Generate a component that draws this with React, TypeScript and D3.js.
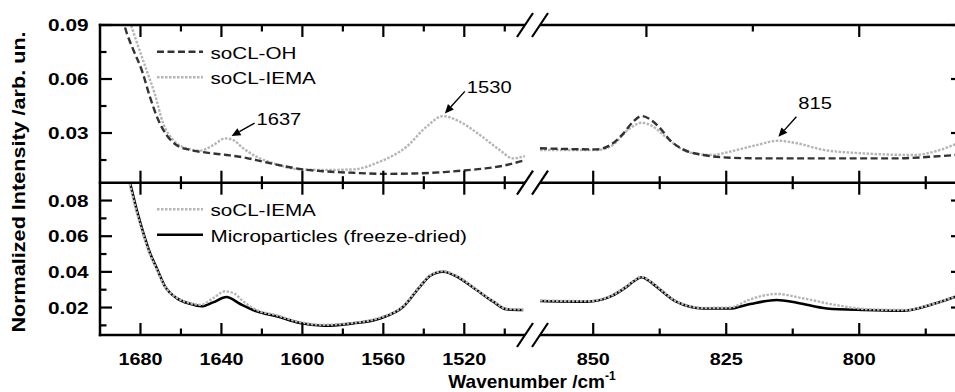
import React, { useEffect, useRef } from "react";
import * as d3 from "d3";

// [wavenumber cm-1, normalized intensity]
// top panel
const ohLow = [
  [1690, 0.1], [1687.7, 0.089], [1683.5, 0.0761], [1679.4, 0.065], [1675.3, 0.05],
  [1671.2, 0.0372], [1667.1, 0.0289], [1662.2, 0.0233], [1655.6, 0.0206], [1647.3, 0.0191],
  [1637.4, 0.0178], [1629.2, 0.0165], [1619.4, 0.0141], [1609.5, 0.0117], [1600, 0.0098],
  [1590, 0.0088], [1575, 0.0079], [1560, 0.0073], [1545, 0.0075], [1530, 0.0083],
  [1520, 0.0092], [1510, 0.0103], [1500, 0.012], [1490, 0.015],
];
const ohHigh = [
  [860, 0.0215], [849.3, 0.0209], [846.8, 0.0233], [844.3, 0.0298], [842.5, 0.0363],
  [840.9, 0.0394], [839.3, 0.0376], [837.4, 0.0326], [835.6, 0.0261], [833.1, 0.0209],
  [829.3, 0.0178], [824.3, 0.0163], [818, 0.0159], [805.5, 0.0159], [793, 0.0159],
  [786.7, 0.0168], [781, 0.018],
];
const iemaLow = [
  [1688, 0.1], [1684.4, 0.089], [1681.1, 0.078], [1677, 0.065], [1673, 0.052],
  [1668.8, 0.0354], [1663.8, 0.0261], [1657.2, 0.0215], [1650.6, 0.0202], [1644, 0.0233],
  [1638.3, 0.027], [1634.2, 0.0261], [1629.2, 0.0215], [1622.6, 0.0168], [1614.4, 0.0132],
  [1601.2, 0.0098], [1588, 0.0095], [1575, 0.0098], [1561.7, 0.0141], [1548.5, 0.0224],
  [1538.7, 0.0335], [1530.5, 0.0394], [1522.2, 0.0363], [1512.3, 0.0289], [1502.5, 0.0206],
  [1495.9, 0.0159], [1490, 0.0172],
];
const iemaHigh = [
  [860, 0.0206], [849.3, 0.0206], [846.8, 0.0224], [843.1, 0.0326], [840.9, 0.0357],
  [838.7, 0.0335], [836.8, 0.0289], [834.3, 0.0228], [831.8, 0.0191], [828, 0.0178],
  [823, 0.0206], [819.3, 0.0233], [815.2, 0.0257], [811.7, 0.0243], [806.7, 0.0206],
  [799.2, 0.0187], [789.8, 0.0178], [784.8, 0.0206], [781, 0.025],
];

// bottom panel
const microLow = [
  [1688, 0.1], [1685.2, 0.0899], [1681.9, 0.0749], [1678.6, 0.0619], [1675.3, 0.0506],
  [1672, 0.0422], [1667.9, 0.0319], [1662.1, 0.0253], [1655.6, 0.0221], [1649.8, 0.0207],
  [1644.1, 0.0229], [1637.5, 0.0259], [1630.9, 0.0221], [1622.6, 0.0179], [1612.8, 0.0151],
  [1601.2, 0.0113], [1589, 0.0098], [1575, 0.0111], [1561.7, 0.0139], [1550.2, 0.0204],
  [1541.9, 0.0317], [1537, 0.0377], [1530.5, 0.0401], [1522.2, 0.0364], [1513.9, 0.0298],
  [1505.7, 0.0233], [1499.1, 0.019], [1490.9, 0.0186],
];
const microHigh = [
  [860, 0.0237], [851.2, 0.0233], [846.8, 0.0261], [843.7, 0.0317], [842.5, 0.0345],
  [840.9, 0.037], [839.3, 0.0345], [838.1, 0.0317], [834.4, 0.0233], [829.3, 0.0195],
  [824.3, 0.0195], [820.5, 0.022], [815.5, 0.0242], [811.7, 0.0227], [806.1, 0.0195],
  [799.2, 0.0186], [791.7, 0.0182], [786.7, 0.0214], [781, 0.027],
];
const iemaBLow = [
  [1688, 0.1], [1685.5, 0.0899], [1682.2, 0.0749], [1678.9, 0.0619], [1675.6, 0.0506],
  [1672.3, 0.0422], [1668.2, 0.0322], [1662.4, 0.0258], [1655.9, 0.0226], [1650.2, 0.0215],
  [1644.1, 0.0252], [1638.3, 0.0291], [1633.5, 0.0278], [1629.8, 0.024], [1622.6, 0.0186],
  [1612.8, 0.0157], [1601.2, 0.0118], [1589, 0.0103], [1575, 0.0114], [1561.7, 0.0143],
  [1550.2, 0.0208], [1541.9, 0.032], [1537, 0.038], [1530.5, 0.0404], [1522.2, 0.0367],
  [1513.9, 0.03], [1505.7, 0.0236], [1499.1, 0.0193], [1490.9, 0.0189],
];
const iemaBHigh = [
  [860, 0.024], [851.2, 0.0236], [846.8, 0.0264], [843.7, 0.032], [842.5, 0.0348],
  [840.9, 0.0372], [839.3, 0.0348], [838.1, 0.032], [834.4, 0.0236], [829.3, 0.0198],
  [824.3, 0.02], [820.5, 0.0246], [815.5, 0.0276], [810.6, 0.0252], [804.4, 0.0214],
  [798.1, 0.019], [791.2, 0.0186], [786.7, 0.0216], [781, 0.0272],
];

// ticks
const lowMajor = [1680, 1640, 1600, 1560, 1520];
const lowMinor = [1660, 1620, 1580, 1540, 1500];
const highMajor = [850, 825, 800];
const highMinor = [837.5, 812.5, 787.5];
const highTopMajor = [840, 800];
const highTopMinor = [820];
const topYMajor = [0.09, 0.06, 0.03];
const topYMinor = [0.075, 0.045, 0.015];
const botYMajor = [0.08, 0.06, 0.04, 0.02];
const botYMinor = [0.07, 0.05, 0.03, 0.01];

const topLegend = ["soCL-OH", "soCL-IEMA"];
const botLegend = ["soCL-IEMA", "Microparticles (freeze-dried)"];

const annotations = [
  { label: "1637", w: 1635, v: 0.0283 },
  { label: "1530", w: 1529.6, v: 0.0409 },
  { label: "815", w: 815.2, v: 0.0279 },
];
// tail and text offsets from the arrow tip, px
const annoOffset = {
  "1637": { tail: [23, -13], text: [25, -11] },
  "1530": { tail: [20, -22], text: [22, -20] },
  "815": { tail: [18, -20], text: [20, -28] },
};

const W = 955;
const H = 392;
const frame = { left: 100, right: 963, top: 25, mid: 182.7, bottom: 335 };
const gapL = 525;
const gapR = 540;
const FONT = "'Liberation Sans', Arial, Helvetica, sans-serif";

const ohStyle = { stroke: "#333333", dash: "7,3.5", width: 2.4 };
const iemaStyle = { stroke: "#b5b5b5", dash: "2.5,1.5", width: 2.4 };
const microStyle = { stroke: "#000000", dash: null, width: 2.6 };

const App = () => {
  const ref = useRef(null);

  useEffect(() => {
    const svg = d3.select(ref.current);
    svg.selectAll("*").remove();

    const xLow = d3.scaleLinear().domain([1700, 1490]).range([frame.left, gapL]);
    const xHigh = d3.scaleLinear().domain([860, 780.5]).range([gapR, frame.right]);
    const xOf = (w) => (w > 1000 ? xLow(w) : xHigh(w));
    const yTop = d3.scaleLinear().domain([0.0024, 0.09]).range([frame.mid, frame.top]);
    const yBot = d3.scaleLinear().domain([0.0046, 0.09]).range([frame.bottom, frame.mid]);

    const text = (g, x, y, str, o) => {
      const t = g
        .append("text")
        .attr(
          "transform",
          `translate(${x},${y})${o.rot ? ` rotate(${o.rot})` : ""} scale(${o.sx || 1},1)`
        )
        .attr("font-family", FONT)
        .attr("font-size", o.size)
        .attr("font-weight", o.weight || "normal")
        .attr("text-anchor", o.anchor || "start")
        .attr("fill", "#000");
      if (str !== null) t.text(str);
      return t;
    };

    // clip regions
    const defs = svg.append("defs");
    defs.append("clipPath").attr("id", "clipTop").append("rect")
      .attr("x", frame.left).attr("y", frame.top)
      .attr("width", frame.right - frame.left).attr("height", frame.mid - frame.top);
    defs.append("clipPath").attr("id", "clipBot").append("rect")
      .attr("x", frame.left).attr("y", frame.mid)
      .attr("width", frame.right - frame.left).attr("height", frame.bottom - frame.mid);

    // curves
    const drawSeries = (clip, y, data, style) => {
      const line = d3.line().x((d) => xOf(d[0])).y((d) => y(d[1])).curve(d3.curveMonotoneX);
      svg.append("path")
        .datum(data)
        .attr("clip-path", `url(#${clip})`)
        .attr("d", line)
        .attr("fill", "none")
        .attr("stroke", style.stroke)
        .attr("stroke-width", style.width)
        .attr("stroke-dasharray", style.dash);
    };
    drawSeries("clipTop", yTop, iemaLow, iemaStyle);
    drawSeries("clipTop", yTop, iemaHigh, iemaStyle);
    drawSeries("clipTop", yTop, ohLow, ohStyle);
    drawSeries("clipTop", yTop, ohHigh, ohStyle);
    drawSeries("clipBot", yBot, microLow, microStyle);
    drawSeries("clipBot", yBot, microHigh, microStyle);
    drawSeries("clipBot", yBot, iemaBLow, iemaStyle);
    drawSeries("clipBot", yBot, iemaBHigh, iemaStyle);

    // axes frame
    const ax = svg.append("g").attr("stroke", "#000").attr("fill", "none");
    [frame.top, frame.mid, frame.bottom].forEach((y) => {
      ax.append("line").attr("x1", frame.left - 1.2).attr("x2", gapL).attr("y1", y).attr("y2", y)
        .attr("stroke-width", 2.5);
      ax.append("line").attr("x1", gapR).attr("x2", frame.right).attr("y1", y).attr("y2", y)
        .attr("stroke-width", 2.5);
      [gapL, gapR].forEach((cx) => {
        ax.append("line")
          .attr("x1", cx - 8).attr("y1", y + 12).attr("x2", cx + 8).attr("y2", y - 12)
          .attr("stroke-width", 2.2);
      });
    });
    [frame.left, frame.right].forEach((x) => {
      ax.append("line").attr("x1", x).attr("x2", x).attr("y1", frame.top - 1.2).attr("y2", frame.bottom + 1.2)
        .attr("stroke-width", 2.5);
    });

    const hTicks = (y, scale, vals, len, up, down) => {
      vals.forEach((v) => {
        const x = scale(v);
        ax.append("line").attr("x1", x).attr("x2", x)
          .attr("y1", y - (up ? len : 0)).attr("y2", y + (down ? len : 0))
          .attr("stroke-width", 2.2);
      });
    };
    hTicks(frame.top, xLow, lowMajor, 12, false, true);
    hTicks(frame.top, xLow, lowMinor, 6.5, false, true);
    hTicks(frame.top, xHigh, highTopMajor, 12, false, true);
    hTicks(frame.top, xHigh, highTopMinor, 6.5, false, true);
    hTicks(frame.mid, xLow, lowMajor, 12, true, true);
    hTicks(frame.mid, xLow, lowMinor, 6.5, true, true);
    hTicks(frame.mid, xHigh, highMajor, 12, true, true);
    hTicks(frame.mid, xHigh, highMinor, 6.5, true, true);
    hTicks(frame.bottom, xLow, lowMajor, 12, true, false);
    hTicks(frame.bottom, xLow, lowMinor, 6.5, true, false);
    hTicks(frame.bottom, xHigh, highMajor, 12, true, false);
    hTicks(frame.bottom, xHigh, highMinor, 6.5, true, false);

    const vTicks = (scale, vals, len) => {
      vals.forEach((v) => {
        const y = scale(v);
        ax.append("line").attr("x1", frame.left).attr("x2", frame.left + len)
          .attr("y1", y).attr("y2", y).attr("stroke-width", 2.2);
        ax.append("line").attr("x1", frame.right - len).attr("x2", frame.right)
          .attr("y1", y).attr("y2", y).attr("stroke-width", 2.2);
      });
    };
    vTicks(yTop, topYMajor, 12);
    vTicks(yTop, topYMinor, 6.5);
    vTicks(yBot, botYMajor, 12);
    vTicks(yBot, botYMinor, 6.5);

    // tick labels
    const lab = svg.append("g");
    topYMajor.forEach((v) =>
      text(lab, 88.5, yTop(v) + 6, v.toFixed(2), { size: 16.5, weight: "bold", anchor: "end", sx: 1.26 })
    );
    botYMajor.forEach((v) =>
      text(lab, 88.5, yBot(v) + 6, v.toFixed(2), { size: 16.5, weight: "bold", anchor: "end", sx: 1.26 })
    );
    lowMajor.forEach((v) =>
      text(lab, xLow(v), 365, String(v), { size: 16.5, weight: "bold", anchor: "middle", sx: 1.2 })
    );
    highMajor.forEach((v) =>
      text(lab, xHigh(v), 365, String(v), { size: 16.5, weight: "bold", anchor: "middle", sx: 1.2 })
    );

    // axis titles
    const xt = text(lab, 532, 388, null, { size: 19, weight: "bold", anchor: "middle", sx: 1.0 });
    xt.append("tspan").text("Wavenumber /cm");
    xt.append("tspan").attr("dy", -8).attr("font-size", 12).text("-1");
    text(lab, 25, 182, "Normalized Intensity /arb. un.", {
      size: 18, weight: "bold", anchor: "middle", sx: 1.2, rot: -90,
    });

    // legends
    const legend = (names, styles, y0) => {
      names.forEach((n, i) => {
        const y = y0 + i * 25.5;
        svg.append("line").attr("x1", 157).attr("x2", 203).attr("y1", y).attr("y2", y)
          .attr("stroke", styles[i].stroke).attr("stroke-width", styles[i].width)
          .attr("stroke-dasharray", styles[i].dash);
        text(lab, 210.5, y + 6.8, n, { size: 16.5, sx: 1.25 });
      });
    };
    legend(topLegend, [ohStyle, iemaStyle], 51.7);
    legend(botLegend, [iemaStyle, microStyle], 209.2);

    // peak annotations
    annotations.forEach((a) => {
      const y = a.w > 1000 ? yTop(a.v) : yTop(a.v);
      const tip = [xOf(a.w), y];
      const off = annoOffset[a.label];
      const tail = [tip[0] + off.tail[0], tip[1] + off.tail[1]];
      const dx = tip[0] - tail[0];
      const dy = tip[1] - tail[1];
      const len = Math.hypot(dx, dy);
      const ux = dx / len;
      const uy = dy / len;
      const hl = 9;
      const hw = 4;
      const base = [tip[0] - ux * hl, tip[1] - uy * hl];
      svg.append("line").attr("x1", tail[0]).attr("y1", tail[1]).attr("x2", base[0]).attr("y2", base[1])
        .attr("stroke", "#000").attr("stroke-width", 1.4);
      svg.append("path")
        .attr("d", `M${tip[0]},${tip[1]}L${base[0] - uy * hw},${base[1] + ux * hw}L${base[0] + uy * hw},${base[1] - ux * hw}Z`)
        .attr("fill", "#000");
      text(lab, tip[0] + off.text[0], tip[1] + off.text[1], a.label, { size: 16.5, sx: 1.22 });
    });
  }, []);

  return (
    <div style={{ position: "absolute", left: 0, top: 0 }}>
      <svg ref={ref} width={W} height={H} style={{ display: "block", background: "#fff" }} />
    </div>
  );
};

export default App;
